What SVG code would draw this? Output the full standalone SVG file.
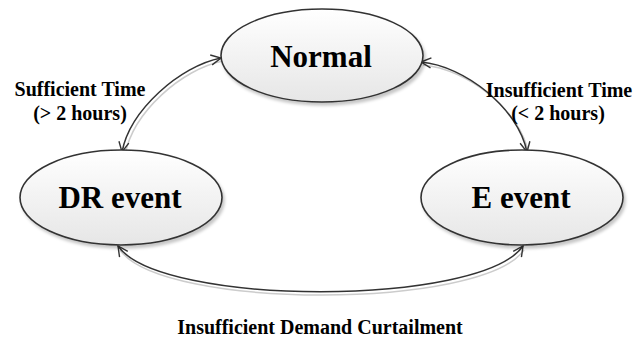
<svg xmlns="http://www.w3.org/2000/svg" width="637" height="337" viewBox="0 0 637 337">
<defs>
<linearGradient id="g" x1="0" y1="0" x2="0" y2="1">
<stop offset="0" stop-color="#ffffff"/>
<stop offset="1" stop-color="#e6e6e6"/>
</linearGradient>
<filter id="sh" x="-10%" y="-10%" width="130%" height="140%">
<feDropShadow dx="2" dy="3" stdDeviation="1.5" flood-color="#000" flood-opacity="0.22"/>
</filter>
<marker id="arr" viewBox="0 0 12 12" refX="11" refY="6" markerWidth="12" markerHeight="12" markerUnits="userSpaceOnUse" orient="auto-start-reverse">
<path d="M1,1 L11,6 L1,11" fill="none" stroke="#333" stroke-width="1.4"/>
</marker>
</defs>
<style>
.node ellipse{fill:url(#g);stroke:#333;stroke-width:1.6;filter:url(#sh)}
.nt{font-family:"Liberation Serif","Times New Roman",serif;font-weight:bold;font-size:31px;fill:#000;text-anchor:middle}
.lb{font-family:"Liberation Serif","Times New Roman",serif;font-weight:bold;font-size:20px;fill:#000;text-anchor:middle}
.conn path{fill:none;stroke:#333;stroke-width:1.5;marker-start:url(#arr);marker-end:url(#arr)}
.conn path.s{stroke:#ccc;stroke-width:1.5;marker-start:none;marker-end:none}
</style>
<g id="connectors" class="conn">
<path class="s" d="M223,61 C182,69 133,112 125,155"/>
<path class="s" d="M423,65 C467,69 521,110 529,155"/>
<path class="s" d="M120,250 C162,310 482,310 524,250"/>
<path d="M221,58 C180,66 130,110 122,152"/>
<path d="M421,62 C465,66 518,108 527,152"/>
<path d="M118,246 C160,307 481,307 523,246"/>
</g>
<g id="normal" class="node">
<ellipse cx="322" cy="55.5" rx="101" ry="46.5"/>
<text class="nt" x="321" y="67">Normal</text>
</g>
<g id="dr-event" class="node">
<ellipse cx="121" cy="197.5" rx="101" ry="47.5"/>
<text class="nt" x="120" y="208">DR event</text>
</g>
<g id="e-event" class="node">
<ellipse cx="522" cy="197.5" rx="101" ry="47.5"/>
<text class="nt" x="521" y="208">E event</text>
</g>
<g id="labels">
<text class="lb" x="80" y="96">Sufficient Time</text>
<text class="lb" x="80" y="120">(&gt; 2 hours)</text>
<text class="lb" x="559" y="97">Insufficient Time</text>
<text class="lb" x="558" y="120">(&lt; 2 hours)</text>
<text class="lb" x="320" y="334">Insufficient Demand Curtailment</text>
</g>
</svg>
